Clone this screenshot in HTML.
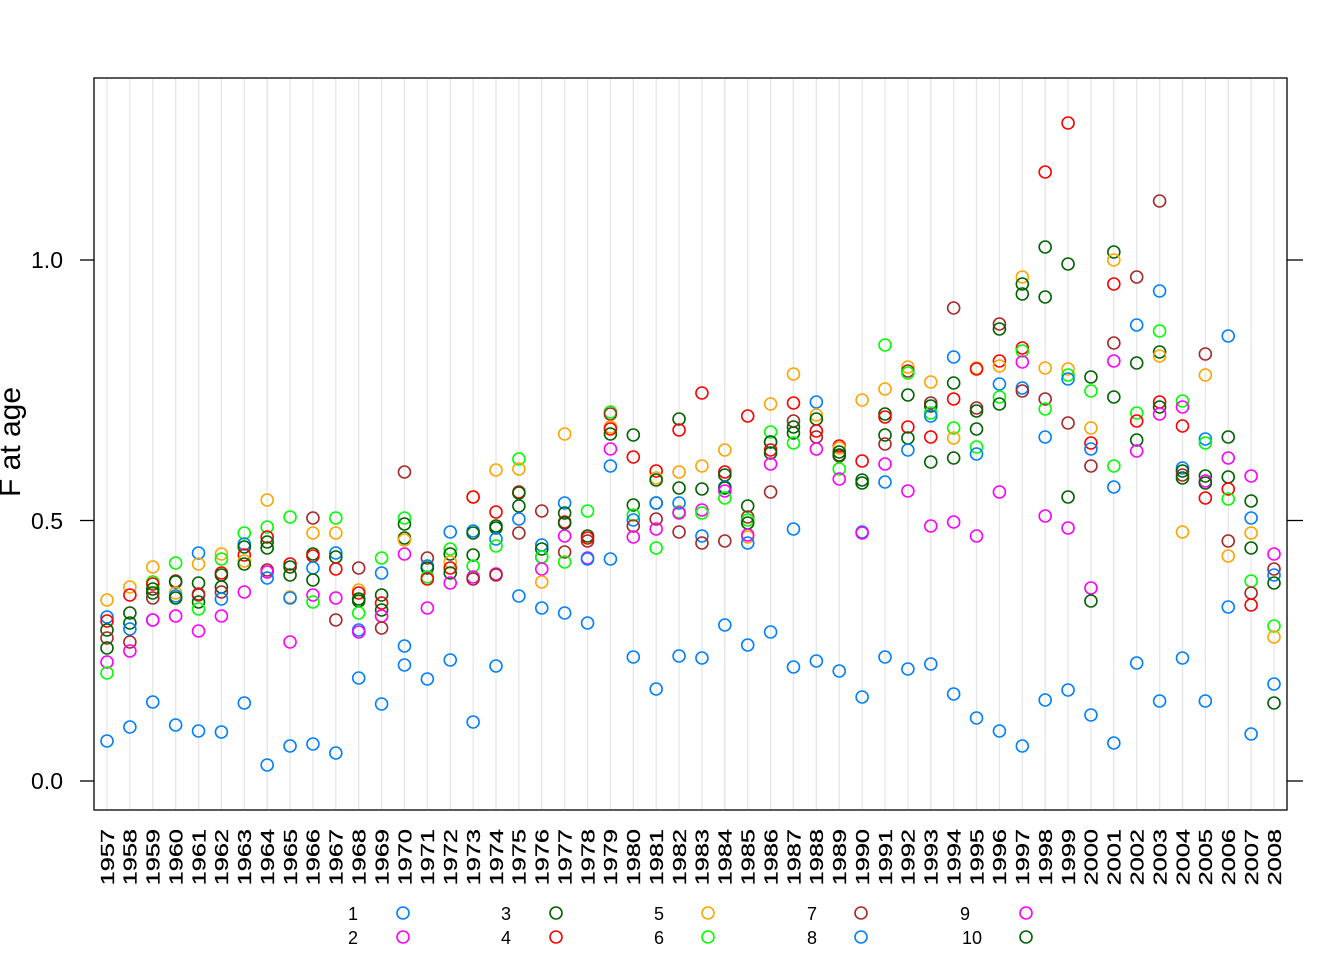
<!DOCTYPE html>
<html><head><meta charset="utf-8"><style>
html,body{margin:0;padding:0;background:#fff}
svg{display:block;font-family:"Liberation Sans",Arial,sans-serif}
</style></head><body>
<svg id="s" width="1344" height="960" xmlns="http://www.w3.org/2000/svg">
<rect width="1344" height="960" fill="#fff"/>
<g id="grid"></g>
<g id="pts" fill="none" stroke-width="1.6"></g>
<rect x="94" y="78" width="1193" height="732" fill="none" stroke="#000" stroke-width="1.3"/>
<g stroke="#000" stroke-width="1.3">
<line x1="94" y1="781" x2="80" y2="781"/><line x1="94" y1="520.5" x2="80" y2="520.5"/><line x1="94" y1="260" x2="80" y2="260"/>
<line x1="1287" y1="781" x2="1303" y2="781"/><line x1="1287" y1="520.5" x2="1303" y2="520.5"/><line x1="1287" y1="260" x2="1303" y2="260"/>
</g>
<g font-size="23" text-anchor="end">
<text x="63" y="789">0.0</text><text x="63" y="529">0.5</text><text x="63" y="268">1.0</text>
</g>
<text transform="translate(20,442) rotate(-90)" font-size="30" text-anchor="middle">F at age</text>
<g id="yl" font-size="18.5" text-anchor="end" stroke="#000" stroke-width="0.3"></g>
<g font-size="18" text-anchor="end">
<text x="358" y="920">1</text><text x="358" y="944">2</text>
<text x="511" y="920">3</text><text x="511" y="944">4</text>
<text x="664" y="920">5</text><text x="664" y="944">6</text>
<text x="817" y="920">7</text><text x="817" y="944">8</text>
<text x="970" y="920">9</text><text x="982" y="944">10</text>
</g>
<g fill="none" stroke-width="1.6">
<circle cx="403" cy="913" r="6" stroke="#0080ff"/><circle cx="403" cy="937" r="6" stroke="#ff00ff"/>
<circle cx="556" cy="913" r="6" stroke="#006400"/><circle cx="556" cy="937" r="6" stroke="#ff0000"/>
<circle cx="708" cy="913" r="6" stroke="#ffa500"/><circle cx="708" cy="937" r="6" stroke="#00ff00"/>
<circle cx="861" cy="913" r="6" stroke="#a52a2a"/><circle cx="861" cy="937" r="6" stroke="#0080ff"/>
<circle cx="1026" cy="913" r="6" stroke="#ff00ff"/><circle cx="1026" cy="937" r="6" stroke="#006400"/>
</g>
</svg>
<script>
var C={b:"#0080ff",m:"#ff00ff",d:"#006400",r:"#ff0000",o:"#ffa500",g:"#00ff00",w:"#a52a2a"};
var D=[
"o600 b617 r621 d630 w638 d648 m662 g673 b741",
"o587 r595 d613 d623 b629 w642 m651 b727",
"o567 g582 r584 d589 d593 w598 b620 m620 b702",
"g563 w581 d582 o593 b596 d598 m616 b725",
"b553 o564 d583 r594 w595 d602 g609 m631 b731",
"o554 g559 r573 d575 d587 w592 b599 m616 b732",
"g533 b544 d547 r555 o561 d564 m592 b703",
"o500 g527 r537 d542 d548 w570 m572 b578 b765",
"g517 r564 d567 d575 o597 b598 m642 b746",
"w518 o533 d554 r556 b568 d580 m595 g602 b744",
"g518 o533 b553 d557 r569 m598 w620 b753",
"w568 o590 r593 d599 d601 g613 b630 m632 b678",
"g558 b573 d595 r603 d610 o616 m616 w628 b704",
"w472 g518 d524 d538 o540 m554 b646 b665",
"w558 b566 d568 g577 r579 m608 b679",
"b532 g549 d554 o562 r568 d573 m583 b660",
"o497 r497 b531 d533 d555 g566 m577 w579 b722",
"o470 r512 d526 d528 b539 g546 m574 w575 b666",
"g459 o469 r492 d493 d506 b519 w533 b596",
"w511 b545 d549 d557 g557 m569 o582 b608",
"o434 b503 d513 r522 d523 m536 w552 g562 b613",
"g511 d536 r538 w541 m558 b559 b623",
"g412 w414 o427 r429 d434 m449 b466 b559",
"d435 r457 d505 g515 b520 w526 m537 b657",
"r471 o478 d480 d503 b503 w519 m529 g548 b689",
"d419 r430 o472 d488 b503 g512 m513 w532 b656",
"r393 o466 d489 m510 g513 b536 w543 b658",
"o450 r472 d475 b487 d488 m491 g498 w541 b625",
"r416 d506 w517 g520 d523 o537 m535 b543 b645",
"o404 g432 b442 d442 r450 d453 m464 w492 b632",
"o374 r403 w421 d427 d433 g443 b529 b667",
"b402 o415 d419 r431 w437 m449 b661",
"r446 o448 d452 w456 d455 g469 m479 b671",
"o400 r461 d480 d483 b532 m533 b697",
"g345 o389 d414 r417 d435 w444 m464 b482 b657",
"o367 w371 g373 d395 r427 d438 b450 m491 b669",
"o382 w403 d406 g413 b416 r437 d462 m526 b664",
"w308 b357 d383 r399 g428 o438 d458 m522 b694",
"o368 r369 w408 d411 d429 g447 b454 m536 b718",
"w324 d329 r361 o366 b384 g397 d404 m492 b731",
"o277 d284 d294 r348 g351 m362 b388 w391 b746",
"r172 d247 d297 o368 w399 g409 b437 m516 b700",
"r123 d264 o369 g375 b379 w423 d497 m528 b690",
"d377 g391 o428 r443 b449 w466 m588 d601 b715",
"d252 o260 r284 w343 m361 d397 g466 b487 b743",
"w277 b325 d363 g413 r421 d440 m451 b663",
"w201 b291 g331 d352 o356 r402 d407 m414 b701",
"g401 m407 r426 b468 d471 w475 d478 o532 b658",
"w354 o375 b439 g443 d476 m481 d483 r498 b701",
"b336 d437 m458 d477 r489 g499 w541 o556 b607",
"m476 d501 b518 o533 d548 g581 w593 r605 b734",
"m554 w569 b575 d583 g626 o637 b684 d703"];
var NS="http://www.w3.org/2000/svg",g=document.getElementById("grid"),p=document.getElementById("pts"),yl=document.getElementById("yl");
function el(t,a,par){var e=document.createElementNS(NS,t);for(var k in a)e.setAttribute(k,a[k]);par.appendChild(e);return e;}
for(var i=0;i<52;i++){
 var x=107+i*(1274-107)/51;
 el("line",{x1:x,y1:79,x2:x,y2:809,stroke:"#e6e6e6","stroke-width":1.3},g);
 var t=el("text",{transform:"translate("+(x+6.8)+",829) rotate(-90) scale(1.37,1)"},yl);t.textContent=1957+i;
 D[i].split(" ").forEach(function(s){el("circle",{cx:x,cy:+s.slice(1),r:6,stroke:C[s[0]]},p);});
}
</script>
</body></html>
